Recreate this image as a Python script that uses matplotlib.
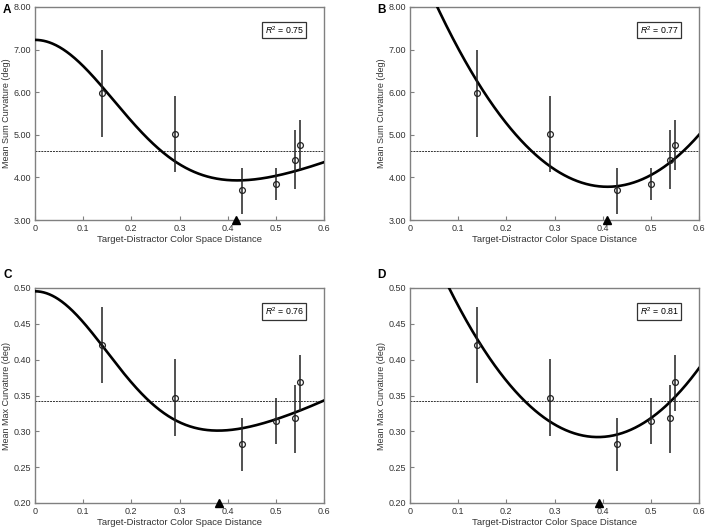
import numpy as np
import matplotlib
matplotlib.use("Agg")
import matplotlib.pyplot as plt

plt.rcParams['font.family'] = ['Liberation Sans', 'DejaVu Sans']
plt.rcParams['mathtext.fontset'] = 'custom'
plt.rcParams['mathtext.rm'] = 'Liberation Sans'
plt.rcParams['mathtext.it'] = 'Liberation Sans:italic'

# ---- data ----
x_dist = [0.14, 0.29, 0.43, 0.50, 0.54, 0.55]

sum_mean = [5.97, 5.02, 3.70, 3.85, 4.42, 4.77]
sum_low = [4.95, 4.12, 3.15, 3.47, 3.72, 4.17]
sum_high = [7.00, 5.92, 4.23, 4.23, 5.12, 5.35]
sum_baseline = 4.62

max_mean = [0.421, 0.347, 0.282, 0.315, 0.318, 0.369]
max_low = [0.367, 0.293, 0.245, 0.282, 0.270, 0.329]
max_high = [0.474, 0.401, 0.319, 0.346, 0.365, 0.407]
max_baseline = 0.342

panel_letters = ['A', 'B', 'C', 'D']
r2_values = ['0.75', '0.77', '0.76', '0.81']
min_markers = [0.417, 0.41, 0.381, 0.392]

# fit parameters: gaussian + quadratic (d, a, s, k) and quadratic (vertex x, vertex y, curvature)
fitA = (3.148, 4.08, 0.17, 3.337)
fitB = (0.41, 3.78, 33.8)
fitC = (0.2529, 0.2425, 0.155, 0.25)
fitD = (0.39, 0.292, 2.18)

xticks = [0, 0.1, 0.2, 0.3, 0.4, 0.5, 0.6]
xtick_labels = ['0', '0.1', '0.2', '0.3', '0.4', '0.5', '0.6']
sum_yticks = [3, 4, 5, 6, 7, 8]
sum_ytick_labels = ['3.00', '4.00', '5.00', '6.00', '7.00', '8.00']
max_yticks = [0.20, 0.25, 0.30, 0.35, 0.40, 0.45, 0.50]
max_ytick_labels = ['0.20', '0.25', '0.30', '0.35', '0.40', '0.45', '0.50']


def gauss_quad(x, p):
    d, a, s, k = p
    return d + k * x ** 2 + a * np.exp(-x ** 2 / (2 * s ** 2))


def quad(x, p):
    xv, yv, q = p
    return yv + q * (x - xv) ** 2


fig = plt.figure(figsize=(7.08, 5.29), dpi=100)
W, H = 708, 529
boxes = [(35, 7, 324, 220), (410, 7, 699, 220), (35, 288, 324, 503), (410, 288, 699, 503)]

axes = []
for (l, t, r, b) in boxes:
    ax = fig.add_axes([l / W, 1 - b / H, (r - l) / W, (b - t) / H])
    axes.append(ax)

spine_col = '#808080'
text_col = '#333333'

configs = [
    (sum_mean, sum_low, sum_high, sum_baseline, (3, 8), sum_yticks, sum_ytick_labels,
     'Mean Sum Curvature (deg)', lambda x: gauss_quad(x, fitA)),
    (sum_mean, sum_low, sum_high, sum_baseline, (3, 8), sum_yticks, sum_ytick_labels,
     'Mean Sum Curvature (deg)', lambda x: quad(x, fitB)),
    (max_mean, max_low, max_high, max_baseline, (0.2, 0.5), max_yticks, max_ytick_labels,
     'Mean Max Curvature (deg)', lambda x: gauss_quad(x, fitC)),
    (max_mean, max_low, max_high, max_baseline, (0.2, 0.5), max_yticks, max_ytick_labels,
     'Mean Max Curvature (deg)', lambda x: quad(x, fitD)),
]

ylabel_x = [-0.097, -0.100, -0.097, -0.100]

for i, (ax, cfg) in enumerate(zip(axes, configs)):
    mean, low, high, base, ylim, yt, ytl, ylabel, fn = cfg
    mean = np.array(mean)
    yerr = [mean - np.array(low), np.array(high) - mean]
    xs = np.linspace(0, 0.6, 400)
    ax.plot(xs, fn(xs), color='black', lw=1.9, zorder=3)
    ax.axhline(base, color='#333333', lw=0.7, ls=(0, (2, 1)), zorder=2)
    ax.errorbar(x_dist, mean, yerr=yerr, fmt='o', mfc='none', mec='#222222',
                ms=4.2, mew=0.9, ecolor='#222222', elinewidth=1.1, capsize=0, zorder=4)
    ax.plot([min_markers[i]], [ylim[0]], marker='^', color='black', ms=5.5,
            clip_on=False, zorder=5, ls='none')
    ax.set_xlim(0, 0.6)
    ax.set_ylim(*ylim)
    ax.set_xticks(xticks)
    ax.set_xticklabels(xtick_labels)
    ax.set_yticks(yt)
    ax.set_yticklabels(ytl)
    ax.tick_params(direction='in', length=3, width=0.8, color=spine_col,
                   labelsize=6.5, labelcolor=text_col, pad=3)
    for sp in ax.spines.values():
        sp.set_color(spine_col)
        sp.set_linewidth(1.0)
    ax.set_xlabel('Target-Distractor Color Space Distance', fontsize=6.8, color=text_col, labelpad=1)
    ax.set_ylabel(ylabel, fontsize=6.5, color=text_col)
    ax.yaxis.set_label_coords(ylabel_x[i], 0.5)
    ax.yaxis.label.set_verticalalignment('center')
    ax.text(0.862, 0.892, r'$\mathit{R}^2$ = ' + r2_values[i], transform=ax.transAxes,
            fontsize=6.3, ha='center', va='center', color='black',
            bbox=dict(boxstyle='square,pad=0.3', fc='white', ec='#333333', lw=0.9))

letter_pos = [(3, 10), (377, 10), (3, 275), (377, 275)]
for (lx, ly), letter in zip(letter_pos, panel_letters):
    fig.text(lx / W, 1 - ly / H, letter, fontsize=8.5, fontweight='bold', ha='left', va='center')

fig.savefig('out.png', dpi=100)
